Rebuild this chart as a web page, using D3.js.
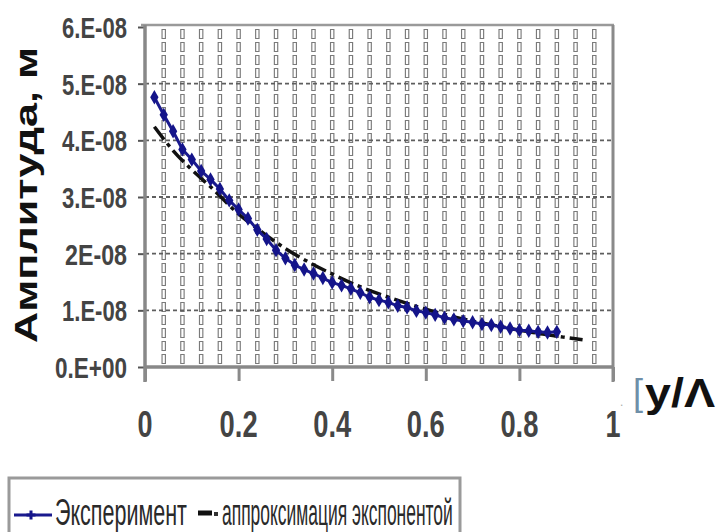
<!DOCTYPE html>
<html>
<head>
<meta charset="utf-8">
<script src="https://cdn.jsdelivr.net/npm/d3@7"></script>
<style>
body { margin: 0; background: #fff; }
text { font-family: "Liberation Sans", Arial, sans-serif; }
</style>
</head>
<body>
<div class="mainviz"></div>
<script>
// experiment points (y/Λ, amplitude in m)
var expX = [0.02,0.04,0.06,0.08,0.10,0.12,0.14,0.16,0.18,0.20,0.22,0.24,0.26,0.28,0.30,0.32,0.34,0.36,0.38,0.40,0.42,0.44,
	0.46,0.48,0.50,0.52,0.54,0.56,0.58,0.60,0.62,0.64,0.66,0.68,0.70,0.72,0.74,0.76,0.78,0.80,0.82,0.84,0.86,0.88];
var expY = [4.76,4.45,4.16,3.84,3.66,3.46,3.31,3.14,2.94,2.78,2.62,2.42,2.26,2.06,1.92,1.80,1.72,1.65,1.57,1.49,1.44,1.38,
	1.31,1.23,1.18,1.14,1.08,1.05,0.99,0.96,0.92,0.87,0.84,0.81,0.79,0.76,0.74,0.71,0.68,0.65,0.64,0.62,0.61,0.62]; // ×1e-8

// exponential approximation
var fitX = [0.02,0.06,0.10,0.14,0.20,0.25,0.30,0.35,0.40,0.45,0.50,0.55,0.60,0.65,0.70,0.75,0.80,0.85,0.90,0.935];
var fitY = [4.24,3.82,3.48,3.18,2.70,2.38,2.09,1.85,1.64,1.45,1.29,1.15,1.02,0.91,0.81,0.73,0.65,0.58,0.52,0.48]; // ×1e-8

var yTicks = [0,1,2,3,4,5,6];
var yTickLabels = ["0.E+00","1.E-08","2E-08","3.E-08","4.E-08","5.E-08","6.E-08"];
var xTicks = [0,0.2,0.4,0.6,0.8,1];
var xTickLabels = ["0","0.2","0.4","0.6","0.8","1"];
var xGrid = [0.04,0.08,0.12,0.16,0.2,0.24,0.28,0.32,0.36,0.4,0.44,0.48,0.52,0.56,0.6,0.64,0.68,0.72,0.76,0.8,0.84,0.88,0.92,0.96];
var legendNames = ["Эксперимент","аппроксимация экспонентой"];

var width = 718, height = 532;
var plot = { left: 145, right: 613, top: 27, bottom: 367 };

var svg = d3.select(".mainviz").append("svg")
	.attr("width", width)
	.attr("height", height);

var x = d3.scaleLinear().domain([0,1]).range([plot.left, plot.right]);
var y = d3.scaleLinear().domain([0,6]).range([plot.bottom, plot.top]);

// squeeze a text horizontally so it is w pixels wide (narrow font look)
function squeeze(sel, w, anchorX, baseY) {
	sel.each(function (d, i) {
		var t = d3.select(this);
		var ww = typeof w === "function" ? w(d, i) : w;
		var ax = typeof anchorX === "function" ? anchorX(d, i) : anchorX;
		var by = typeof baseY === "function" ? baseY(d, i) : baseY;
		var k = ww / this.getComputedTextLength();
		t.attr("x", 0).attr("y", 0)
			.attr("transform", "translate(" + ax + "," + by + ") scale(" + k + ",1)");
	});
}

// vertical grid, drawn as chains of little outlined boxes
var vg = svg.append("g");
vg.selectAll("line.vo").data(xGrid).enter().append("line")
	.attr("x1", d => x(d)).attr("x2", d => x(d))
	.attr("y1", plot.top + 2).attr("y2", plot.bottom)
	.attr("stroke", "#7a7a7a").attr("stroke-width", 4.5)
	.attr("stroke-dasharray", "10,3");
vg.selectAll("line.vi").data(xGrid).enter().append("line")
	.attr("x1", d => x(d)).attr("x2", d => x(d))
	.attr("y1", plot.top + 2).attr("y2", plot.bottom)
	.attr("stroke", "#fff").attr("stroke-width", 2.2)
	.attr("stroke-dasharray", "8,5").attr("stroke-dashoffset", -1);

// horizontal major grid
svg.append("g").selectAll("line").data(yTicks.slice(1, 6)).enter().append("line")
	.attr("x1", plot.left).attr("x2", plot.right)
	.attr("y1", d => y(d)).attr("y2", d => y(d))
	.attr("stroke", "#5e5e5e").attr("stroke-width", 1.8)
	.attr("stroke-dasharray", "4,3");

// frame
svg.append("line").attr("x1", plot.left - 4).attr("x2", plot.right + 1)
	.attr("y1", plot.top - 2).attr("y2", plot.top - 2)
	.attr("stroke", "#9a9a9a").attr("stroke-width", 2.5);
svg.append("line").attr("x1", plot.right).attr("x2", plot.right)
	.attr("y1", plot.top - 2).attr("y2", plot.bottom + 15)
	.attr("stroke", "#8a8a8a").attr("stroke-width", 3);

// axes
var yAxis = d3.axisLeft(y).tickValues(yTicks).tickSize(7).tickFormat("");
var xAxis = d3.axisBottom(x).tickValues(xTicks).tickSize(14).tickFormat("");

svg.append("g").attr("class", "axis y")
	.attr("transform", "translate(" + plot.left + ",0)")
	.call(yAxis)
	.call(g => g.select(".domain").remove())
	.selectAll("line").attr("stroke", "#555").attr("stroke-width", 2);
svg.append("line").attr("x1", plot.left).attr("x2", plot.left)
	.attr("y1", plot.top - 2).attr("y2", plot.bottom + 15)
	.attr("stroke", "#888").attr("stroke-width", 3.5);

svg.append("g").attr("class", "axis x")
	.attr("transform", "translate(0," + plot.bottom + ")")
	.call(xAxis)
	.call(g => g.select(".domain").remove())
	.selectAll("line").attr("stroke", "#8a8a8a").attr("stroke-width", 3);
svg.append("line").attr("x1", plot.left).attr("x2", plot.right)
	.attr("y1", plot.bottom).attr("y2", plot.bottom)
	.attr("stroke", "#888").attr("stroke-width", 3.5);

// tick labels
svg.append("g").selectAll("text").data(yTicks).enter().append("text")
	.attr("text-anchor", "end")
	.attr("font-size", 30).attr("font-weight", "bold")
	.attr("fill", "#444")
	.text((d, i) => yTickLabels[i])
	.call(squeeze, (d, i) => yTickLabels[i].length === 5 ? 62 : (i === 0 ? 72 : 65), 127, d => y(d) + 11);

svg.append("g").selectAll("text").data(xTicks).enter().append("text")
	.attr("text-anchor", "middle")
	.attr("font-size", 37).attr("font-weight", "bold")
	.attr("fill", "#444")
	.text((d, i) => xTickLabels[i])
	.call(squeeze, (d, i) => xTickLabels[i].length === 1 ? 15 : 38, d => x(d), 437);

// axis titles
svg.append("text")
	.attr("transform", "translate(37,343) rotate(-90)")
	.attr("font-size", 32).attr("font-weight", "bold").attr("fill", "#111")
	.attr("textLength", 296).attr("lengthAdjust", "spacingAndGlyphs")
	.text("Амплитуда, м");

svg.append("text").attr("x", 620).attr("y", 406)
	.attr("font-size", 12).attr("fill", "#aaa").text(".");
svg.append("text").attr("x", 633).attr("y", 405)
	.attr("font-size", 36).attr("fill", "#6f8fa8").text("[");
svg.append("text")
	.attr("font-size", 40).attr("font-weight", "bold").attr("fill", "#111")
	.text("y/Λ")
	.call(squeeze, 70, 645, 407);

// approximation line
var fitLine = d3.line()
	.x((d, i) => x(fitX[i]))
	.y(d => y(d))
	.curve(d3.curveMonotoneX);

svg.append("path")
	.attr("d", fitLine(fitY))
	.attr("fill", "none")
	.attr("stroke", "#111")
	.attr("stroke-width", 3.5)
	.attr("stroke-dasharray", "16,5,4,5");

// experiment line + markers
var expLine = d3.line()
	.x((d, i) => x(expX[i]))
	.y(d => y(d));

svg.append("path")
	.attr("d", expLine(expY))
	.attr("fill", "none")
	.attr("stroke", "#1a1a8e")
	.attr("stroke-width", 3);

var diamond = d3.symbol().type(d3.symbolDiamond).size(60);
svg.append("g").selectAll("path").data(expY).enter().append("path")
	.attr("d", diamond)
	.attr("transform", (d, i) => "translate(" + x(expX[i]) + "," + y(d) + ")")
	.attr("fill", "#14148a");

// legend
var lg = svg.append("g");
lg.append("rect")
	.attr("x", 9).attr("y", 478).attr("width", 451).attr("height", 70)
	.attr("fill", "#fff").attr("stroke", "#9a9a9a").attr("stroke-width", 3);
lg.append("line").attr("x1", 14).attr("x2", 52).attr("y1", 515).attr("y2", 515)
	.attr("stroke", "#1a1a8e").attr("stroke-width", 3);
lg.append("path").attr("d", d3.symbol().type(d3.symbolCross).size(45))
	.attr("transform", "translate(31,515)").attr("fill", "#14148a");
lg.append("text")
	.attr("font-size", 37).attr("fill", "#2a2a2a")
	.text(legendNames[0])
	.call(squeeze, 132, 55, 525);
lg.append("line").attr("x1", 198).attr("x2", 212).attr("y1", 513).attr("y2", 513)
	.attr("stroke", "#111").attr("stroke-width", 5);
lg.append("rect").attr("x", 214).attr("y", 512).attr("width", 4).attr("height", 4)
	.attr("fill", "#333");
lg.append("text")
	.attr("font-size", 37).attr("fill", "#2a2a2a")
	.text(legendNames[1])
	.call(squeeze, 231, 222, 525);
</script>
</body>
</html>
